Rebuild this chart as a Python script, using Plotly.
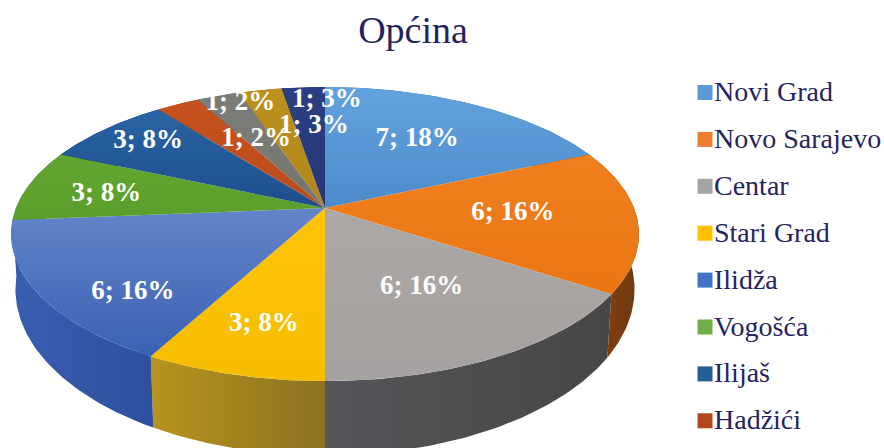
import numpy as np
import plotly.graph_objects as go

title = "Općina"
categories = ["Novi Grad", "Novo Sarajevo", "Centar", "Stari Grad", "Ilidža", "Vogošća", "Ilijaš", "Hadžići", "", "", ""]
values = [7, 6, 6, 3, 6, 3, 3, 1, 1, 1, 1]
label_percents = [18, 16, 16, 8, 16, 8, 8, 2, 2, 3, 3]

# (upper edge colour, lower edge colour) of each top face
top_colors = [("#62A3DF", "#4E8ACA"), ("#F07F1E", "#EA7613"), ("#ABA8A6", "#A5A1A0"), ("#FFC405", "#F6BD00"),
              ("#6585C9", "#3A60B2"), ("#62A62E", "#5C9E2C"), ("#2A64A4", "#1D4E8C"), ("#C5531F", "#BD4A1C"),
              ("#7C7C7A", "#76766F"), ("#BD911F", "#B0851B"), ("#2B3F82", "#253775")]
# (left colour, right colour) of each outer wall
side_colors = [("#2F5F8C", "#2F5F8C"), ("#8E3F02", "#6C3A14"), ("#55555A", "#484644"), ("#B8931C", "#8A7222"),
               ("#3A5DB0", "#2F509F"), ("#3A5DB0", "#3A5DB0"), ("#173A66", "#173A66"), ("#7E3512", "#7E3512"),
               ("#555555", "#555555"), ("#7A5F14", "#7A5F14"), ("#1E2C5C", "#1E2C5C")]
legend_colors = ["#5B9BD5", "#ED7D31", "#A5A5A5", "#FFC000", "#4472C4", "#70AD47", "#255E91", "#B5461B"]
label_r = [0.637, 0.606, 0.57, 0.722, 0.769, 0.73, 0.82, 0.60, 0.92, 0.66, 0.895]
label_shift = [-2.3, -2.7, -1.6, -0.3, -9.6, -0.6, 2.3, 9.1, 3.6, 10.7, 5.2]

CX, CY, A, B, K = 325.0, 208.0, 142.4, 309.0, 0.177
XS, YS, DROP = 0.986, 1.13, 52.0


def project(r, deg):
    t = np.radians(deg)
    u, v = r * np.sin(t), r * np.cos(t)
    w = 1 + K * v
    return CX + B * u / w, CY - A * v / w


def lower(x, y):
    return CX + (x - CX) * XS, CY + DROP + (y - CY) * YS


total = sum(values)
edges = np.cumsum([0] + values) / total * 360
fig = go.Figure()

# outer wall
for i, name in enumerate(categories):
    th = np.linspace(edges[i], edges[i + 1], 60)
    x, y = project(1.0, th)
    xb, yb = lower(x, y)
    fig.add_trace(go.Scatter(
        x=np.r_[x, xb[::-1]], y=np.r_[y, yb[::-1]], mode="lines", fill="toself", line=dict(width=0),
        fillgradient=dict(type="horizontal", colorscale=[[0, side_colors[i][0]], [1, side_colors[i][1]]]),
        hoverinfo="skip", showlegend=False))

# top face
for i, name in enumerate(categories):
    th = np.linspace(edges[i], edges[i + 1], 60)
    x, y = project(1.0, th)
    fig.add_trace(go.Scatter(
        x=np.r_[CX, x, CX], y=np.r_[CY, y, CY], mode="lines", fill="toself", line=dict(width=0),
        fillgradient=dict(type="vertical", colorscale=[[0, top_colors[i][1]], [1, top_colors[i][0]]]),
        name=name, text=f"{values[i]}; {label_percents[i]}%", hoverinfo="name+text", showlegend=False))

# value labels
lx, ly = [], []
for i in range(len(values)):
    mid = (edges[i] + edges[i + 1]) / 2 + label_shift[i]
    px, py = project(label_r[i], mid)
    lx.append(px)
    ly.append(py + 2)
fig.add_trace(go.Scatter(
    x=lx, y=ly, mode="text", text=[f"{v}; {p}%" for v, p in zip(values, label_percents)],
    textposition="middle center", textfont=dict(family="Liberation Serif", size=27, color="white", weight="bold"),
    hoverinfo="skip", showlegend=False))

# legend column (the reference is cropped below the eighth entry)
names = [c for c in categories if c]
ky = [92.5 + 46.9 * i for i in range(len(names))]
fig.add_trace(go.Scatter(
    x=[705] * len(names), y=ky, mode="markers",
    marker=dict(symbol="square", size=15, color=legend_colors),
    hoverinfo="skip", showlegend=False))
fig.add_trace(go.Scatter(
    x=[714] * len(names), y=[k + 1.5 for k in ky], mode="text", text=names, textposition="middle right",
    textfont=dict(family="Liberation Serif", size=28, color="#26245E"),
    hoverinfo="skip", showlegend=False))

fig.update_layout(
    width=884, height=448, margin=dict(l=0, r=0, t=0, b=0),
    paper_bgcolor="white", plot_bgcolor="white",
    title=dict(text=title, x=413 / 884, y=1 - 30 / 448, xanchor="center", yanchor="middle",
               font=dict(family="Liberation Serif", size=38, color="#26245E")),
    xaxis=dict(range=[0, 884], visible=False, fixedrange=True),
    yaxis=dict(range=[448, 0], visible=False, fixedrange=True),
)
fig.write_html("out.html", config=dict(displayModeBar=False),
               post_script="document.body.style.margin='0';document.body.style.overflow='hidden';")
